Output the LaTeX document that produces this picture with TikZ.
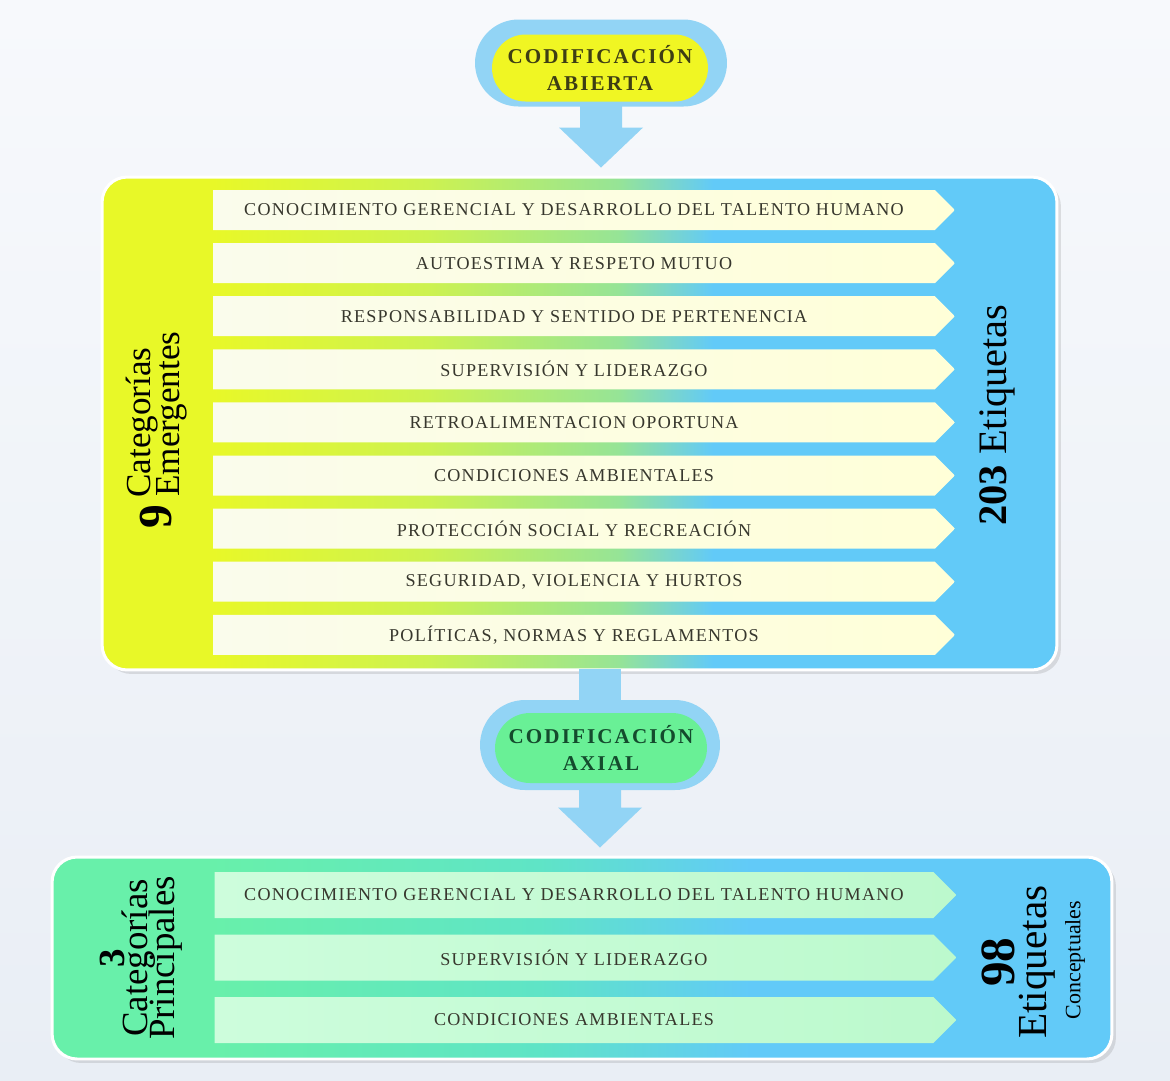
\documentclass[tikz,border=0pt]{standalone}
\usepackage{fontspec}
\setmainfont{Liberation Serif}
\newfontfamily\franjafont[LetterSpace=7]{Liberation Serif}
\newfontfamily\burbujafont[LetterSpace=10]{Liberation Serif}
\usetikzlibrary{shapes.symbols,shadows,calc}
\definecolor{amarillo}{RGB}{232,248,40}
\definecolor{amaverde}{RGB}{205,242,80}
\definecolor{verdeclaro}{RGB}{150,228,150}
\definecolor{celeste}{RGB}{98,202,248}
\definecolor{menta}{RGB}{104,240,170}
\definecolor{turquesa}{RGB}{95,228,198}
\definecolor{burbuja}{RGB}{146,212,245}
\definecolor{amaburbuja}{RGB}{240,246,35}
\definecolor{verdeburbuja}{RGB}{105,240,150}
\definecolor{crema}{RGB}{255,255,216}
\definecolor{cremaclaro}{RGB}{250,252,236}
\definecolor{mentaclaro}{RGB}{205,253,220}
\definecolor{mentafranja}{RGB}{188,249,205}
\definecolor{fondo}{RGB}{233,238,245}
\definecolor{fondoarriba}{RGB}{247,249,252}
\definecolor{textofranja}{RGB}{55,55,45}
\pgfdeclarehorizontalshading{emergsh}{100bp}{color(0bp)=(amarillo); color(30.8bp)=(amarillo); color(42bp)=(amaverde); color(52bp)=(verdeclaro); color(57bp)=(celeste); color(100bp)=(celeste)}
\pgfdeclarehorizontalshading{axialsh}{100bp}{color(0bp)=(menta); color(32.5bp)=(menta); color(48bp)=(turquesa); color(58bp)=(celeste); color(100bp)=(celeste)}
\begin{document}
\begin{tikzpicture}[x=0.02cm,y=-0.02cm,every node/.style={inner sep=0pt},
  caja/.style={draw=white,line width=0.06cm,rounded corners=0.5cm,drop shadow={shadow xshift=0.08cm,shadow yshift=-0.08cm,opacity=0.22}},
  franja/.style={signal,signal to=east,signal pointer angle=90,minimum width=14.84cm,font=\franjafont\fontsize{10.3}{12}\selectfont,text=textofranja},
  burbuja/.style={fill=burbuja,rounded corners=0.87cm,minimum width=5.04cm,minimum height=1.74cm},
  capsula/.style={rounded corners=0.67cm,minimum width=4.32cm,minimum height=1.34cm,align=center,font=\burbujafont\fontsize{12}{15.3}\selectfont\bfseries},
  flecha/.style={fill=burbuja},
  rotulo/.style={rotate=90,text=black}]
    \useasboundingbox (0,0) rectangle (1170,1080);
    \fill[top color=fondoarriba,bottom color=fondo] (0,0) rectangle (1170,1080);
    % cajas
    \node[caja,shading=emergsh,minimum width=19.1cm,minimum height=9.86cm] (emerg) at (579.5,423.5) {};
    \node[caja,shading=axialsh,minimum width=21.2cm,minimum height=4.04cm] (princ) at (582,958) {};
    % burbujas
    \node[burbuja] (abiertaout) at (601,63) {};
    \node[burbuja,minimum width=4.8cm,minimum height=1.8cm,rounded corners=0.9cm] (axialout) at (600,745) {};
    % flechas
    \fill[flecha] ($(axialout.north)+(-21,10)$) rectangle ($(emerg.south -| axialout.north)+(21,-2)$);
    \foreach \mde/\ma in {abiertaout/emerg,axialout/princ}
        \fill[flecha] ($(\mde.south)+(-21,-10)$) -- ($(\mde.south)+(21,-10)$) -- ($(\ma.north -| \mde.south)+(21,-48)$) -- ($(\ma.north -| \mde.south)+(42,-48)$) -- ($(\ma.north -| \mde.south)+(0,-8)$) -- ($(\ma.north -| \mde.south)+(-42,-48)$) -- ($(\ma.north -| \mde.south)+(-21,-48)$) -- cycle;
    \node[capsula,fill=amaburbuja,text={rgb,255:red,62;green,62;blue,20}] (abierta) at (600,68) {CODIFICACIÓN\\ABIERTA};
    \node[capsula,fill=verdeburbuja,minimum width=4.24cm,minimum height=1.4cm,rounded corners=0.7cm,text={rgb,255:red,20;green,75;blue,45}] (axial) at (601,748) {CODIFICACIÓN\\AXIAL};
    % categorias emergentes
    \foreach \i/\mnamei in {1/CONOCIMIENTO GERENCIAL Y DESARROLLO DEL TALENTO HUMANO,2/AUTOESTIMA Y RESPETO MUTUO,3/RESPONSABILIDAD Y SENTIDO DE PERTENENCIA,4/SUPERVISIÓN Y LIDERAZGO,5/RETROALIMENTACION OPORTUNA,6/CONDICIONES AMBIENTALES,7/PROTECCIÓN SOCIAL Y RECREACIÓN,{8/SEGURIDAD, VIOLENCIA Y HURTOS},{9/POLÍTICAS, NORMAS Y REGLAMENTOS}}
        \node[franja,minimum height=0.8cm,left color=cremaclaro,right color=crema] (e\i) at (574,{210+53.1*(\i-1)}) {\mnamei};
    % categorias principales
    \foreach \i/\mnamei in {1/CONOCIMIENTO GERENCIAL Y DESARROLLO DEL TALENTO HUMANO,2/SUPERVISIÓN Y LIDERAZGO,3/CONDICIONES AMBIENTALES}
        \node[franja,minimum height=0.92cm,left color=mentaclaro,right color=mentafranja] (p\i) at (574,{895+62.5*(\i-1)}) {\mnamei};
    % rotulos
    \node[rotulo,font=\fontsize{27}{27}\selectfont\bfseries] (n9) at (156,517) {9};
    \node[rotulo,anchor=west,font=\fontsize{20}{20}\selectfont] (cat9) at (142,498) {Categorías};
    \node[rotulo,anchor=west,font=\fontsize{20}{20}\selectfont] (emer9) at (172,497) {Emergentes};
    \node[rotulo,font=\fontsize{23}{23}\selectfont] (et203) at (997,415) {\textbf{203} Etiquetas};
    \node[rotulo,font=\fontsize{21}{21}\selectfont\bfseries] (n3) at (112,958) {3};
    \node[rotulo,font=\fontsize{21}{21}\selectfont] (cat3) at (139,958) {Categorías};
    \node[rotulo,font=\fontsize{21}{21}\selectfont] (prin3) at (166,958) {Principales};
    \node[rotulo,font=\fontsize{28}{28}\selectfont\bfseries] (n98) at (998,962) {98};
    \node[rotulo,font=\fontsize{23.5}{23.5}\selectfont] (et98) at (1037,962) {Etiquetas};
    \node[rotulo,font=\fontsize{12.5}{12.5}\selectfont] (conc98) at (1075,960) {Conceptuales};
\end{tikzpicture}
\end{document}
